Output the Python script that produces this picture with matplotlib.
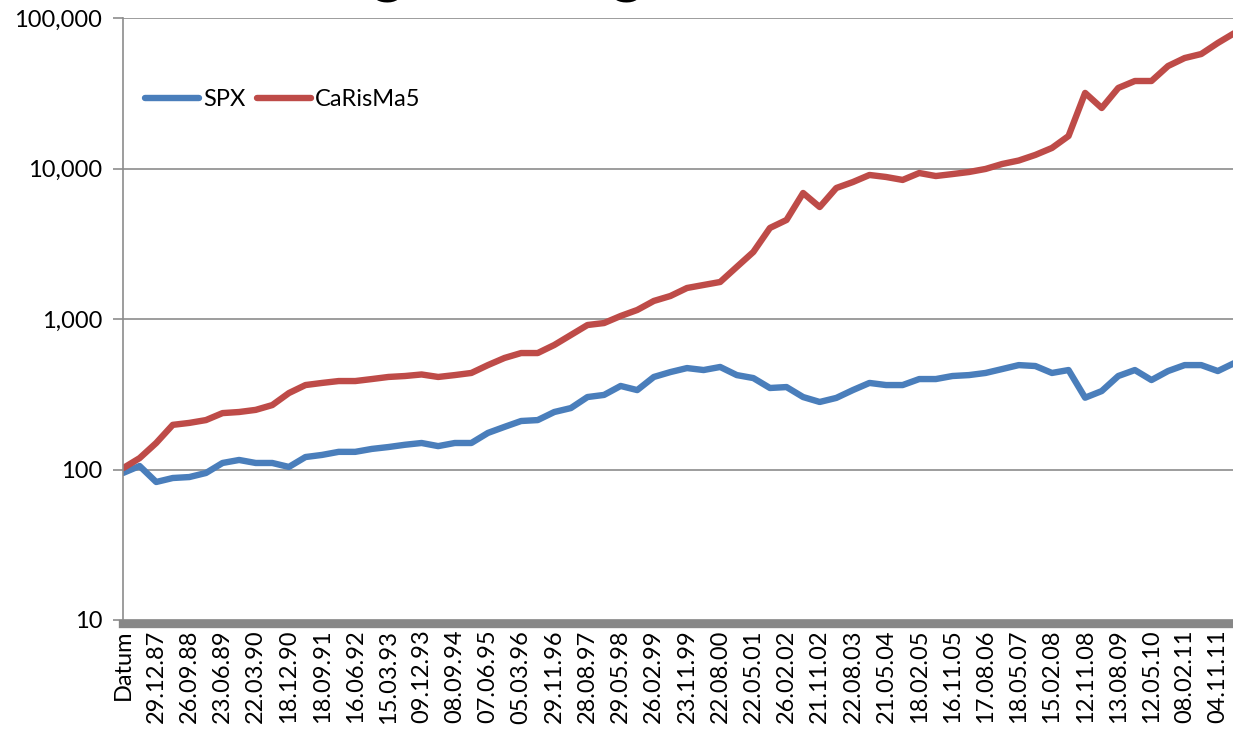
import numpy as np
import matplotlib
matplotlib.use('Agg')
import matplotlib.pyplot as plt
from matplotlib.ticker import FixedLocator, FuncFormatter, NullLocator

plt.rcParams['font.family'] = ['Lato', 'DejaVu Sans']

# category labels on the x axis (every ~195 trading days)
tick_labels = ['Datum', '29.12.87', '26.09.88', '23.06.89', '22.03.90', '18.12.90',
               '18.09.91', '16.06.92', '15.03.93', '09.12.93', '08.09.94', '07.06.95',
               '05.03.96', '29.11.96', '28.08.97', '29.05.98', '26.02.99', '23.11.99',
               '22.08.00', '22.05.01', '26.02.02', '21.11.02', '22.08.03', '21.05.04',
               '18.02.05', '16.11.05', '17.08.06', '18.05.07', '15.02.08', '12.11.08',
               '13.08.09', '12.05.10', '08.02.11', '04.11.11']

# values, one every half label step
carisma5 = [102, 119, 150, 198, 204, 213, 237, 241, 249, 268,
            322, 364, 376, 387, 387, 399, 412, 418, 428, 412,
            424, 438, 494, 551, 594, 594, 672, 783, 912, 940,
            1047, 1148, 1318, 1422, 1607, 1683, 1762, 2218, 2789, 4027,
            4550, 6874, 5546, 7420, 8128, 9057, 8783, 8395, 9333, 8912,
            9183, 9478, 9931, 10715, 11300, 12310, 13690, 16440, 31780, 25230,
            34300, 38140, 38140, 47960, 54200, 57640, 68240, 79430]

spx = [94.8, 105.5, 82.6, 87.8, 89.1, 94.8, 110.5, 115.7, 110.5, 110.5,
       104, 121, 125, 131, 131, 137, 141, 146, 150, 143,
       150, 150, 175, 192, 210, 213, 241, 256, 303, 313,
       359, 337, 412, 444, 472, 458, 480, 424, 405, 348,
       353, 303, 281, 299, 337, 376, 364, 364, 399, 399,
       418, 424, 438, 465, 494, 487, 438, 458, 300, 332,
       418, 458, 393, 451, 494, 494, 451, 510]

x = np.arange(len(spx)) * 0.5

fig = plt.figure(figsize=(12.33, 7.35), dpi=100)
ax = fig.add_axes([123 / 1233, 115 / 735, 1128 / 1233, 602 / 735])

# spine position first: it resets the tick settings
for s in ['top', 'right']:
    ax.spines[s].set_visible(False)
ax.spines['left'].set_color('#8c8c8c')
ax.spines['left'].set_linewidth(1.2)
ax.spines['bottom'].set_color('#878787')
ax.spines['bottom'].set_linewidth(6)
ax.spines['bottom'].set_position(('outward', 3))

ax.plot(x, spx, color='#4a7ebb', lw=4.6, solid_capstyle='round', label='SPX')
ax.plot(x, carisma5, color='#be4b48', lw=4.6, solid_capstyle='round', label='CaRisMa5')

ax.set_yscale('log')
ax.set_ylim(10, 100000)
ax.set_xlim(0, 34)
ax.yaxis.set_major_locator(FixedLocator([10, 100, 1000, 10000, 100000]))
ax.yaxis.set_minor_locator(NullLocator())
ax.yaxis.set_major_formatter(FuncFormatter(lambda v, p: f'{int(round(v)):,}'))
ax.grid(axis='y', color='#8c8c8c', lw=1.2)
ax.set_axisbelow(True)

ax.set_xticks(np.arange(len(tick_labels)))
ax.set_xticklabels(tick_labels, rotation=90, fontsize=17)
ax.tick_params(axis='x', length=0, pad=4)
ax.tick_params(axis='y', labelsize=17, length=7, width=1.2, color='#8c8c8c', pad=8)

ax.legend(loc='center left', bbox_to_anchor=(0.0195, 0.864), ncol=2, frameon=False,
          fontsize=17, handlelength=2.3, handletextpad=0.15, columnspacing=0.5,
          borderaxespad=0, borderpad=0)

# title sits mostly above the visible area, only descenders show
fig.text(343 / 1233, 1 + 9 / 735, 'Wertentwicklung im Vergleich', fontsize=47,
         ha='center', va='baseline')

fig.savefig('out.png', dpi=100)
